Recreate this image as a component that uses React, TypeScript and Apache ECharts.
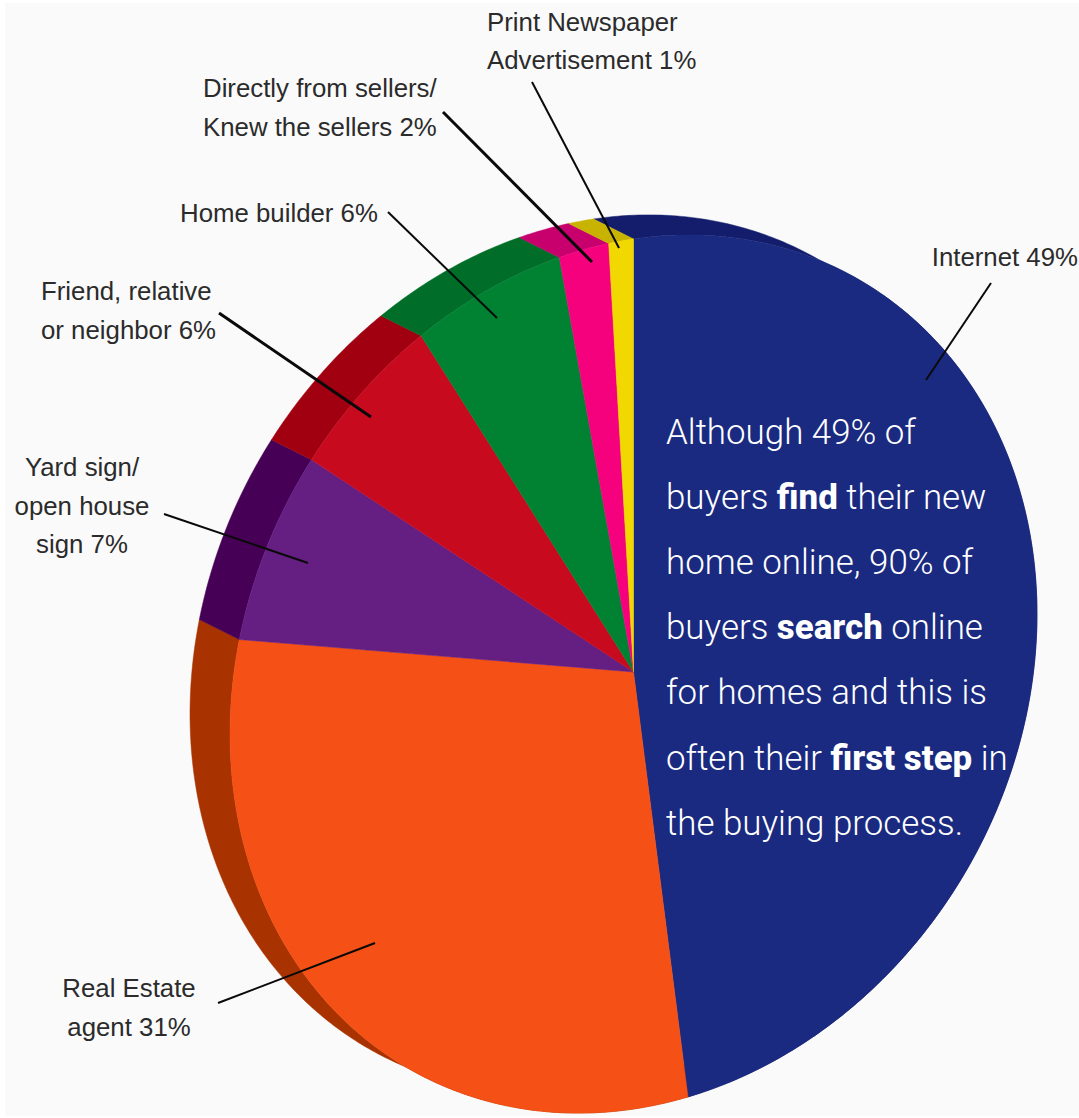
import React, { useEffect, useRef } from "react";
import * as echarts from "echarts";

const categories = [
  "Internet",
  "Real Estate agent",
  "Yard sign/open house sign",
  "Friend, relative or neighbor",
  "Home builder",
  "Directly from sellers/Knew the sellers",
  "Print Newspaper Advertisement",
];
const values = [48.8, 31.2, 7, 6, 6, 2, 1];
const faceColors = ["#1A2A80", "#F55015", "#651F82", "#C80A1E", "#008232", "#F5007D", "#F0D800"];
const wallColors = ["#141D6C", "#A83200", "#460056", "#A00010", "#006E28", "#C8006E", "#C8B400"];

const labelLines = [
  ["Internet 49%"],
  ["Real Estate", "agent 31%"],
  ["Yard sign/", "open house", "sign 7%"],
  ["Friend, relative", "or neighbor 6%"],
  ["Home builder 6%"],
  ["Directly from sellers/", "Knew the sellers 2%"],
  ["Print Newspaper", "Advertisement 1%"],
];

const noteLines = [
  "Although 49% of",
  "buyers {b|find} their new",
  "home online, 90% of",
  "buyers {b|search} online",
  "for homes and this is",
  "often their {b|first step} in",
  "the buying process.",
];

// layout
const W = 1079;
const H = 1118;
const CX = 633.5;
const CY = 674;
const EXT = { x: -40, y: -20 };
const AX = 403.5; // horizontal extent
const SKEW = -60; // vertical shift per sin(u)
const AY = 435; // vertical extent per cos(u)
const labelPos: any[] = [
  { x: 1078, y: 257, align: "right" },
  { x: 129, y: 988, align: "center", dy: 39 },
  { x: 82, y: 467, align: "center", dy: 38.5 },
  { x: 41, y: 291, align: "left", dy: 39 },
  { x: 180, y: 213, align: "left", dy: 39 },
  { x: 203, y: 88, align: "left", dy: 39 },
  { x: 487, y: 22, align: "left", dy: 38 },
];
const leaders: any[] = [
  { p: [991, 283, 926, 380], w: 2 },
  { p: [218, 1003, 375, 943], w: 2 },
  { p: [164, 514, 308, 563], w: 2 },
  { p: [219, 313, 371, 417], w: 3 },
  { p: [388, 212, 497, 318], w: 2 },
  { p: [443, 112, 592, 262], w: 3 },
  { p: [532, 82, 619, 248], w: 2 },
];

const total = values.reduce((a, b) => a + b, 0);
const starts: number[] = [];
values.reduce((acc, v, i) => {
  starts[i] = acc;
  return acc + v;
}, 0);

function pt(u: number, ox = 0, oy = 0): number[] {
  const s = Math.sin(u);
  const c = Math.cos(u);
  return [CX + ox + AX * s, CY + oy + SKEW * s - AY * c];
}

function arc(i: number, ox = 0, oy = 0): number[][] {
  const a = (starts[i] / total) * 2 * Math.PI;
  const b = ((starts[i] + values[i]) / total) * 2 * Math.PI;
  const n = Math.max(4, Math.ceil((b - a) / 0.01));
  const out: number[][] = [];
  for (let k = 0; k <= n; k++) out.push(pt(a + ((b - a) * k) / n, ox, oy));
  return out;
}

const seriesData = categories.map((name, i) => ({ name, value: values[i] }));

export default function App() {
  const ref = useRef<HTMLDivElement>(null);
  useEffect(() => {
    document.body.style.margin = "0";
    document.body.style.background = "#ffffff";
    const chart = echarts.init(ref.current!, undefined, { renderer: "svg" });
    const graphic: any[] = [
      {
        type: "rect",
        z: 0,
        shape: { x: 5, y: 3, width: W - 5, height: H - 5 },
        style: { fill: "#FAFAFA" },
      },
    ];
    leaders.forEach((l) => {
      graphic.push({
        type: "line",
        z: 100,
        shape: { x1: l.p[0], y1: l.p[1], x2: l.p[2], y2: l.p[3] },
        style: { stroke: "#0a0a0a", lineWidth: l.w },
      });
    });
    labelLines.forEach((lines, i) => {
      const pos = labelPos[i];
      lines.forEach((t, k) => {
        graphic.push({
          type: "text",
          z: 100,
          x: pos.x,
          y: pos.y + k * (pos.dy || 0),
          style: {
            text: t,
            fill: "#2b2b2b",
            fontFamily: "Liberation Sans",
            fontSize: 25.8,
            align: pos.align,
            verticalAlign: "middle",
          },
        });
      });
    });
    noteLines.forEach((t, k) => {
      graphic.push({
        type: "text",
        z: 101,
        x: 666,
        y: 432 + k * 65.2,
        style: {
          text: t,
          fill: "#ffffff",
          fontFamily: "Roboto",
          fontWeight: 300,
          fontSize: 34.9,
          align: "left",
          verticalAlign: "middle",
          rich: {
            b: {
              fill: "#ffffff",
              fontFamily: "Roboto",
              fontWeight: 800,
              fontSize: 34.9,
            },
          },
        },
      });
    });
    chart.setOption({
      animation: false,
      backgroundColor: "#ffffff",
      graphic,
      series: [
        {
          type: "custom",
          name: "wall",
          coordinateSystem: "none",
          silent: true,
          z: 1,
          data: seriesData,
          renderItem: (params: any) => {
            const i = params.dataIndex;
            const top = arc(i);
            const back = arc(i, EXT.x, EXT.y).reverse();
            return {
              type: "polygon",
              shape: { points: top.concat(back) },
              style: { fill: wallColors[i], stroke: wallColors[i], lineWidth: 0.5 },
            };
          },
        },
        {
          type: "custom",
          name: "face",
          coordinateSystem: "none",
          silent: true,
          z: 2,
          data: seriesData,
          renderItem: (params: any) => {
            const i = params.dataIndex;
            return {
              type: "polygon",
              shape: { points: [[CX, CY - 2], ...arc(i)] },
              style: { fill: faceColors[i], stroke: faceColors[i], lineWidth: 0.5 },
            };
          },
        },
      ],
    });
    return () => chart.dispose();
  }, []);
  return (
    <div
      ref={ref}
      style={{ position: "absolute", left: 0, top: 0, width: W, height: H }}
    />
  );
}
